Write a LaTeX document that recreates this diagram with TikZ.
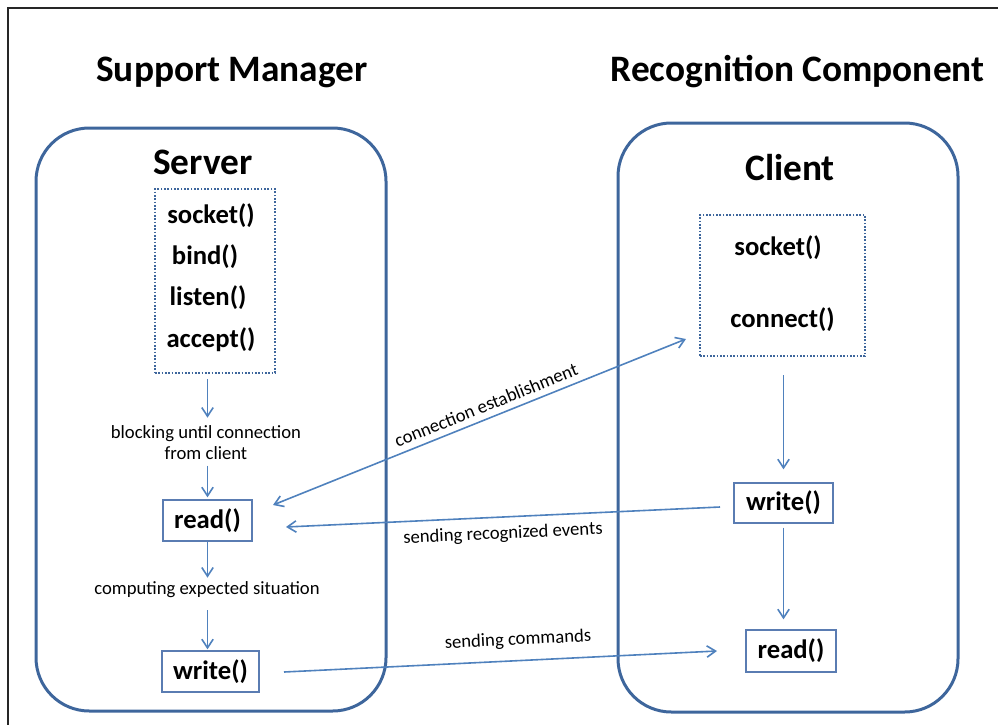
\documentclass[tikz,border=0pt]{standalone}
\usepackage{fontspec}
\setmainfont{Carlito}
\usetikzlibrary{arrows.meta}
\definecolor{rectblue}{RGB}{62,102,156}
\definecolor{arrblue}{RGB}{79,129,189}
\definecolor{boxblue}{RGB}{90,124,178}
\definecolor{framegray}{RGB}{38,38,38}
\begin{document}
\begin{tikzpicture}[x=0.75pt,y=-0.75pt,
  bigtxt/.style={font=\fontsize{28}{32}\selectfont\bfseries, inner sep=0pt},
  fntxt/.style={font=\fontsize{20}{24}\selectfont\bfseries, inner sep=0pt},
  smalltxt/.style={font=\fontsize{14}{15.75}\selectfont, inner sep=0pt, align=center},
  compbox/.style={draw=rectblue, line width=2.25pt, rounded corners=40pt, inner sep=0pt},
  dotbox/.style={draw=rectblue, line width=1.6pt, dash pattern=on 1.3pt off 1.2pt, inner sep=0pt},
  fnbox/.style={draw=boxblue, line width=1pt, fntxt},
  arr/.style={draw=arrblue, line width=1.2pt, -{Straight Barb[length=6.5pt,width=8.5pt]}},
  dblarr/.style={arr, {Straight Barb[length=6.5pt,width=8.5pt]}-{Straight Barb[length=6.5pt,width=8.5pt]}},
  frameline/.style={draw=framegray, line width=1.2pt}]
\useasboundingbox (0,0) rectangle (998,724);
% frame
\coordinate (fBL) at (8,730);
\coordinate (fTL) at (8,8);
\coordinate (fTR) at (1000,8);
\draw[frameline] (fBL) -- (fTL) -- (fTR);

% titles
\node[bigtxt] (tSM) at (232,72) {Support Manager};
\node[bigtxt] (tRC) at (797.5,72) {Recognition Component};

% component frames
\node[compbox, minimum width=262.5pt, minimum height=437.25pt] (leftRect) at (211,419.5) {};
\node[compbox, minimum width=255pt, minimum height=441.75pt] (rightRect) at (788,417.5) {};

\node[bigtxt] (tServer) at (203,162) {Server};
\node[bigtxt] (tClient) at (790,168) {Client};

% server side
\node[dotbox, minimum width=90pt, minimum height=138pt] (dotL) at (215,281) {};
\node[fntxt] (sockL) at (211,216) {socket()};
\node[fntxt] (bindL) at (205,257) {bind()};
\node[fntxt] (listenL) at (208,298) {listen()};
\node[fntxt] (acceptL) at (211,340) {accept()};

\node[smalltxt] (blk) at (206,443) {blocking until connection\\from client};
\node[fnbox, minimum width=66.75pt, minimum height=30.75pt] (readL) at (207.5,520.5) {read()};
\node[smalltxt] (comp) at (207,590) {computing expected situation};
\node[fnbox, minimum width=72.75pt, minimum height=30.75pt] (writeL) at (210.5,671.5) {write()};

\draw[arr, shorten <=3.75pt, shorten >=6pt] (dotL.south -| readL) -- (blk.north -| readL);
\draw[arr, shorten <=4pt, shorten >=1.5pt] (blk.south -| readL) -- (readL.north);
\draw[arr, shorten >=3pt] (readL.south) -- (comp.north -| readL);
\draw[arr, shorten <=9pt, shorten >=0.75pt] (comp.south -| readL) -- (readL |- writeL.north);

% client side
\node[dotbox, minimum width=123.75pt, minimum height=105.75pt] (dotR) at (782.5,285.5) {};
\node[fntxt] (sockR) at (778,248) {socket()};
\node[fntxt] (connR) at (782.5,320) {connect()};
\node[fnbox, minimum width=74.25pt, minimum height=30pt] (writeR) at (783.5,503) {write()};
\node[fnbox, minimum width=67.5pt, minimum height=31.5pt] (readR) at (791,651) {read()};

\draw[arr, shorten <=13.5pt, shorten >=9.75pt] (dotR.south -| writeR) -- (writeR.north);
\draw[arr, shorten <=3pt, shorten >=7.5pt] (writeR.south) -- (writeR.south |- readR.north);

% cross connectors
\coordinate (ceL) at (273,505);
\coordinate (ceR) at (686,339);
\draw[dblarr] (ceL) -- (ceR);
\node[smalltxt, rotate=21.9] (ceLab) at (486,405) {connection establishment};

\coordinate (sreR) at (720,507);
\coordinate (sreL) at (286,527);
\draw[arr] (sreR) -- (sreL);
\node[smalltxt, rotate=2.6] (sreLab) at (503,534) {sending recognized events};

\coordinate (scL) at (284,672);
\coordinate (scR) at (717,651);
\draw[arr] (scL) -- (scR);
\node[smalltxt, rotate=2.8] (scLab) at (518,640) {sending commands};
\end{tikzpicture}
\end{document}
